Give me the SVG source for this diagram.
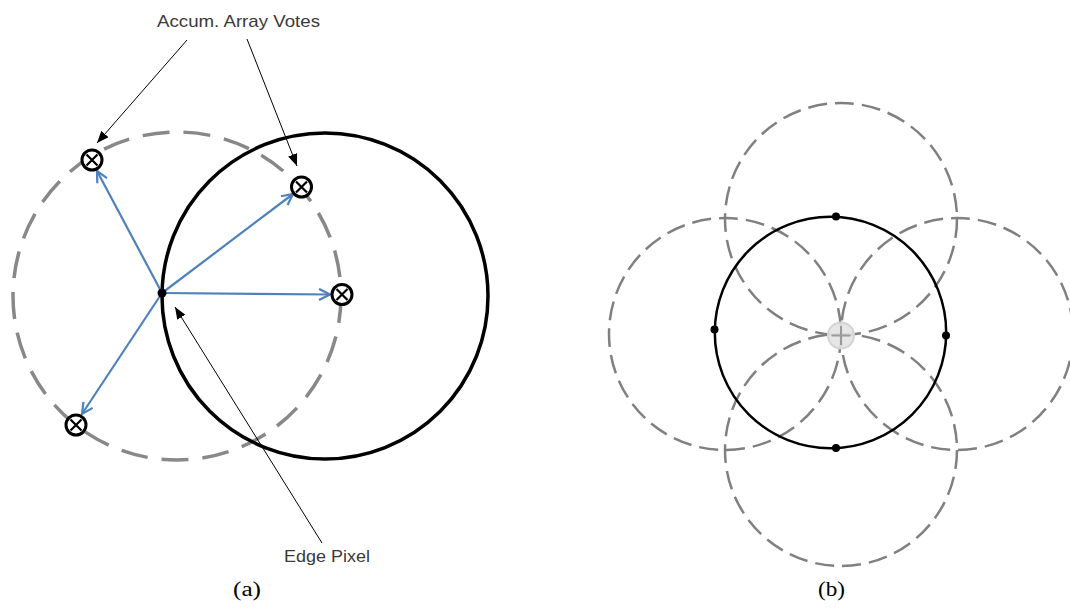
<svg xmlns="http://www.w3.org/2000/svg" width="1070" height="614" viewBox="0 0 1070 614">
<style>
.lbl{font-family:"Liberation Sans","DejaVu Sans",sans-serif;font-size:17px;fill:#3a3a3a}
.cap{font-family:"Liberation Serif","DejaVu Serif",serif;font-size:20px;fill:#000}
.dashA{fill:none;stroke:#888;stroke-width:3.5;stroke-dasharray:27 14}
.dashB{fill:none;stroke:#808080;stroke-width:2.5;stroke-dasharray:19 8}
.solidA{fill:none;stroke:#000;stroke-width:3.5}
.solidB{fill:none;stroke:#000;stroke-width:2.5}
.blue{fill:none;stroke:#4f81bd;stroke-width:2.2;marker-end:url(#chev)}
.ann{fill:none;stroke:#000;stroke-width:1;marker-end:url(#tri)}
.vote circle{fill:#fff;stroke:#000;stroke-width:3}
.vote path{stroke:#000;stroke-width:2.2}
.dot{fill:#000}
</style>
<defs>
<marker id="chev" viewBox="0 0 13 13" refX="12" refY="6.5" markerWidth="13" markerHeight="13" markerUnits="userSpaceOnUse" orient="auto">
<path d="M1,1 L12,6.5 L1,12" fill="none" stroke="#4f81bd" stroke-width="2.2"/>
</marker>
<marker id="tri" viewBox="0 0 10 8" refX="10" refY="4" markerWidth="12" markerHeight="10" markerUnits="userSpaceOnUse" orient="auto">
<path d="M0,0 L10,4 L0,8 Z" fill="#000"/>
</marker>
</defs>
<rect width="1070" height="614" fill="#fff"/>

<g id="panel-a">
<circle id="dashed-circle-a" class="dashA" cx="177" cy="296" r="164"/>
<circle id="solid-circle-a" class="solidA" cx="325" cy="296" r="163"/>
</g>

<g id="connectors">
<line class="blue" x1="162" y1="293" x2="97" y2="171"/>
<line class="blue" x1="162" y1="293" x2="293" y2="194"/>
<line class="blue" x1="162" y1="293" x2="330" y2="294.5"/>
<line class="blue" x1="162" y1="293" x2="82" y2="414"/>
<line class="ann" x1="187" y1="40" x2="97" y2="143"/>
<line class="ann" x1="247" y1="39" x2="297" y2="166"/>
<line class="ann" x1="322" y1="543" x2="175" y2="307"/>
</g>

<g id="vote1" class="vote"><circle cx="92" cy="160" r="10"/><path d="M86.5,154.5 L97.5,165.5 M97.5,154.5 L86.5,165.5"/></g>
<g id="vote2" class="vote"><circle cx="301.5" cy="187" r="10"/><path d="M296,181.5 L307,192.5 M307,181.5 L296,192.5"/></g>
<g id="vote3" class="vote"><circle cx="342" cy="294.5" r="10"/><path d="M336.5,289 L347.5,300 M347.5,289 L336.5,300"/></g>
<g id="vote4" class="vote"><circle cx="76" cy="425" r="10"/><path d="M70.5,419.5 L81.5,430.5 M81.5,419.5 L70.5,430.5"/></g>
<g id="edge-pixel"><circle class="dot" cx="162" cy="293" r="4.5"/></g>

<g id="label-votes"><text class="lbl" x="157" y="27" textLength="163" lengthAdjust="spacingAndGlyphs">Accum. Array Votes</text></g>
<g id="label-edge"><text class="lbl" x="284" y="562" textLength="86" lengthAdjust="spacingAndGlyphs">Edge Pixel</text></g>
<g id="caption-a"><text class="cap" x="233" y="596" textLength="28" lengthAdjust="spacingAndGlyphs">(a)</text></g>

<g id="panel-b">
<circle class="dashB" cx="841" cy="219" r="116"/>
<circle class="dashB" cx="725" cy="334" r="116"/>
<circle class="dashB" cx="957" cy="334" r="116"/>
<circle class="dashB" cx="841" cy="450" r="116"/>
<circle id="solid-circle-b" class="solidB" cx="830.5" cy="332.5" r="115.7"/>
<g id="center-marker">
<circle cx="841" cy="335.5" r="13" fill="#e3e3e3" fill-opacity="0.9" stroke="#d4d4d4" stroke-width="2"/>
<path d="M841,326 V345 M831.5,335.5 H850.5" stroke="#9a9a9a" stroke-width="2"/>
</g>
<circle class="dot" cx="836" cy="216.5" r="4"/>
<circle class="dot" cx="836" cy="448" r="4"/>
<circle class="dot" cx="714.5" cy="329.5" r="4"/>
<circle class="dot" cx="946" cy="335.5" r="4"/>
</g>
<g id="caption-b"><text class="cap" x="818" y="596" textLength="27" lengthAdjust="spacingAndGlyphs">(b)</text></g>
</svg>
